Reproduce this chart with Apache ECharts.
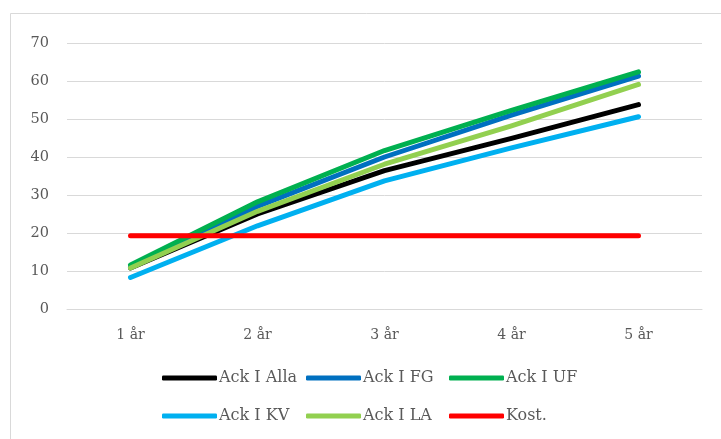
<!DOCTYPE html>
<html>
<head>
<meta charset="utf-8">
<script src="https://cdn.jsdelivr.net/npm/echarts@6/dist/echarts.min.js"></script>
<style>html,body{margin:0;padding:0;background:#fff;}#c{width:721px;height:439px;}</style>
</head>
<body>
<div id="c"></div>
<script>
const categories = ['1 år', '2 år', '3 år', '4 år', '5 år'];
const seriesNames = ['Ack I Alla', 'Ack I FG', 'Ack I UF', 'Ack I KV', 'Ack I LA', 'Kost.'];
const ackAlla = [10.8, 25.0, 36.4, 44.9, 53.8];
const ackFG   = [11.0, 27.0, 40.0, 51.0, 61.3];
const ackUF   = [11.6, 28.2, 41.7, 52.3, 62.4];
const ackKV   = [8.3, 21.9, 33.7, 42.4, 50.6];
const ackLA   = [10.8, 25.7, 38.1, 48.2, 59.1];
const kost    = [19.3, 19.3, 19.3, 19.3, 19.3];
const seriesValues = [ackAlla, ackFG, ackUF, ackKV, ackLA, kost];
const colors = ['#000000', '#0070c0', '#00b050', '#00b0f0', '#92d050', '#ff0000'];
const yTicks = { min: 0, max: 70, interval: 10 };

const font = 'DejaVu Serif';
const legendLefts = [162, 306, 449];
const legendTops = [369, 407];

const chart = echarts.init(document.getElementById('c'), null, { renderer: 'canvas' });
const legends = seriesNames.map((n, i) => ({
  data: [n],
  left: legendLefts[i % 3],
  top: legendTops[Math.floor(i / 3)],
  padding: 0,
  icon: 'roundRect',
  itemWidth: 55,
  itemHeight: 5,
  selectedMode: false,
  textStyle: { fontFamily: font, fontSize: 16, color: '#595959', padding: [0, 0, 0, -3], lineHeight: 18 }
}));

chart.setOption({
  animation: false,
  backgroundColor: '#ffffff',
  graphic: [{
    type: 'rect',
    shape: { x: 10.5, y: 13.5, width: 800, height: 500 },
    style: { fill: 'none', stroke: '#d9d9d9', lineWidth: 1 },
    silent: true
  }],
  grid: { left: 67, right: 19, top: 43, bottom: 130, containLabel: false },
  legend: legends,
  xAxis: {
    type: 'category',
    data: categories,
    boundaryGap: true,
    axisLine: { show: true, lineStyle: { color: '#d9d9d9', width: 1 } },
    axisTick: { show: false },
    axisLabel: { fontFamily: font, fontSize: 14, color: '#595959', margin: 19 }
  },
  yAxis: {
    type: 'value',
    min: yTicks.min, max: yTicks.max, interval: yTicks.interval,
    axisLine: { show: false },
    axisTick: { show: false },
    axisLabel: { fontFamily: font, fontSize: 14.5, color: '#595959', margin: 18 },
    splitLine: { lineStyle: { color: '#d9d9d9', width: 1 } }
  },
  series: seriesNames.map((n, i) => ({
    name: n,
    type: 'line',
    data: seriesValues[i],
    symbol: 'none',
    color: colors[i],
    lineStyle: { width: 5, color: colors[i], cap: 'round', join: 'round' },
    z: 2 + i
  }))
});
</script>
</body>
</html>
